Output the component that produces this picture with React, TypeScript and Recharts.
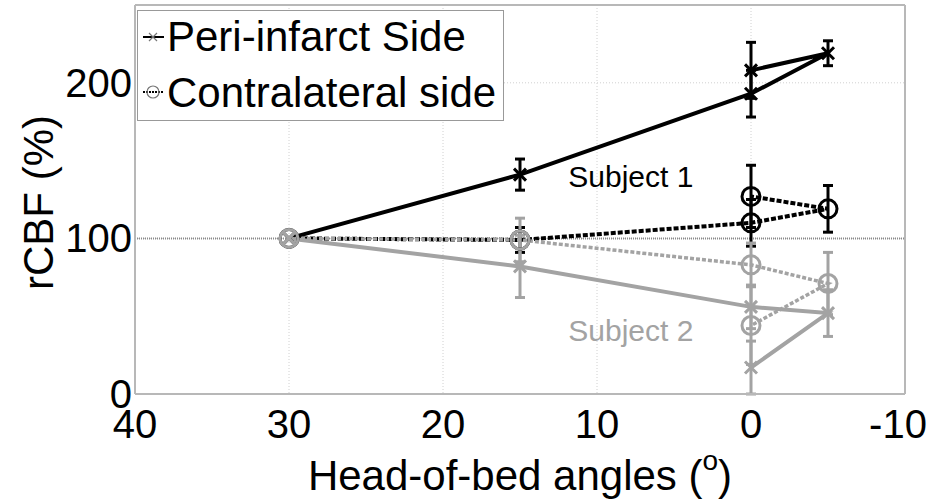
import React from "react";
import {
  LineChart,
  Line,
  XAxis,
  YAxis,
  CartesianGrid,
  ErrorBar,
  ReferenceLine,
  ReferenceDot,
} from "recharts";

// head-of-bed angle for each measurement, in the order the lines were drawn
const angles = [30, 15, 0, -5, 0];

const periSubject1 = [100, 141, 193, 219, 208];
const periSubject1Err = [0, 10, 15, 8, 18];
const contraSubject1 = [100, 99, 110, 119, 127];
const contraSubject1Err = [0, 8, 15, 15, 20];

const periSubject2 = [100, 82, 56, 52, 17];
const periSubject2Err = [0, 20, 14, 15, 17];
const contraSubject2 = [100, 99, 83, 71, 44];
const contraSubject2Err = [0, 14, 14, 20, 25];

const xTicks = [40, 30, 20, 10, 0, -10];
const yTicks = [0, 100, 200];

const FONT = "'Liberation Sans', Arial, Helvetica, sans-serif";
const BLACK = "#000";
const GREY = "#a3a3a3";

const toPoints = (ys: number[], errs: number[]) =>
  angles.map((x, i) => ({ x, y: ys[i], err: errs[i] }));

const crossDot = (color: string) => (props: any) => {
  const { cx, cy, index } = props;
  const s = 6;
  return (
    <path
      key={`x-${index}`}
      d={`M${cx - s},${cy - s}L${cx + s},${cy + s}M${cx - s},${cy + s}L${cx + s},${cy - s}`}
      stroke={color}
      strokeWidth={3}
      fill="none"
    />
  );
};

const circleDot = (color: string) => (props: any) => {
  const { cx, cy, index } = props;
  return <circle key={`o-${index}`} cx={cx} cy={cy} r={9} fill="none" stroke={color} strokeWidth={3} />;
};

const XTick = (props: any) => {
  const { x, y, payload } = props;
  const shift = payload.value === -10 ? -7 : 0;
  return (
    <text x={x + shift} y={y + 44} textAnchor="middle" fontSize={40} fontFamily={FONT} fill="#000">
      {payload.value}
    </text>
  );
};

const YTick = (props: any) => {
  const { y, payload } = props;
  return (
    <text x={132} y={y + 14} textAnchor="end" fontSize={40} fontFamily={FONT} fill="#000">
      {payload.value}
    </text>
  );
};

const XLabel = (props: any) => {
  const vb = props.viewBox;
  const cx = vb.x + vb.width / 2;
  return (
    <text x={cx} y={490} textAnchor="middle" fontSize={42} fontFamily={FONT} fill="#000">
      Head-of-bed angles (
      <tspan fontSize={28} dy={-20}>o</tspan>
      <tspan dy={20}>)</tspan>
    </text>
  );
};

const YLabel = (props: any) => {
  const vb = props.viewBox;
  const cy = vb.y + vb.height / 2 + 3;
  return (
    <text
      x={38}
      y={cy}
      transform={`rotate(-90, 38, ${cy})`}
      textAnchor="middle"
      dominantBaseline="central"
      fontSize={42}
      fontFamily={FONT}
      fill="#000"
    >
      rCBF (%)
    </text>
  );
};

function LegendBox() {
  return (
    <svg
      width={934}
      height={504}
      style={{ position: "absolute", left: 0, top: 0, pointerEvents: "none" }}
    >
      <rect x={137.5} y={10.5} width={366} height={110} fill="#fff" stroke="#999" strokeWidth={1} />
      <line x1={143} y1={37} x2={164} y2={37} stroke={BLACK} strokeWidth={2} />
      <path d="M149,33L157,41M149,41L157,33" stroke="#777" strokeWidth={1.2} />
      <text x={167} y={51} fontSize={42} fontFamily={FONT} fill="#000">
        Peri-infarct Side
      </text>
      <line x1={143} y1={92} x2={164} y2={92} stroke={BLACK} strokeWidth={2} strokeDasharray="2 1" />
      <circle cx={153} cy={92} r={6} fill="none" stroke="#777" strokeWidth={1.2} />
      <text x={167} y={107} fontSize={42} fontFamily={FONT} fill="#000">
        Contralateral side
      </text>
    </svg>
  );
}

export default function App() {
  const series = [
    { id: "periS1", data: toPoints(periSubject1, periSubject1Err), color: BLACK, dash: undefined, dot: crossDot(BLACK), w: 4 },
    { id: "contraS1", data: toPoints(contraSubject1, contraSubject1Err), color: BLACK, dash: "5 2", dot: circleDot(BLACK), w: 4 },
    { id: "periS2", data: toPoints(periSubject2, periSubject2Err), color: GREY, dash: undefined, dot: crossDot(GREY), w: 4 },
    { id: "contraS2", data: toPoints(contraSubject2, contraSubject2Err), color: GREY, dash: "4 2", dot: circleDot(GREY), w: 3.5 },
  ];

  return (
    <div style={{ position: "absolute", left: 0, top: 0, width: 934, height: 504, background: "#fff", fontFamily: FONT }}>
      <LineChart width={934} height={504} margin={{ top: 5, right: 29, bottom: 0, left: 0 }}>
        <CartesianGrid stroke="#d0d0d0" strokeDasharray="1 2" strokeWidth={1} />
        <XAxis
          type="number"
          dataKey="x"
          domain={[-10, 40]}
          reversed
          ticks={xTicks}
          tick={<XTick />}
          tickLine={false}
          tickSize={0}
          tickMargin={0}
          height={110}
          stroke="#b8b8b8"
          strokeWidth={2}
          label={(p: any) => <XLabel {...p} />}
          allowDataOverflow
        />
        <YAxis
          type="number"
          dataKey="y"
          domain={[0, 250]}
          ticks={yTicks}
          tick={<YTick />}
          tickLine={false}
          tickSize={0}
          tickMargin={0}
          width={135}
          stroke="#b8b8b8"
          strokeWidth={2}
          label={(p: any) => <YLabel {...p} />}
          allowDataOverflow
        />
        <ReferenceLine y={250} stroke="#b8b8b8" strokeWidth={2} />
        <ReferenceLine x={-10} stroke="#b8b8b8" strokeWidth={2} />
        <ReferenceLine y={100} stroke="#8a8a8a" strokeWidth={2} strokeDasharray="1 1" />
        {series.map((s) => (
          <Line
            key={s.id}
            data={s.data}
            dataKey="y"
            type="linear"
            stroke={s.color}
            strokeWidth={s.w}
            strokeDasharray={s.dash}
            dot={s.dot}
            activeDot={false}
            isAnimationActive={false}
          >
            <ErrorBar dataKey="err" direction="y" width={5} stroke={s.color} strokeWidth={3} />
          </Line>
        ))}
        <ReferenceDot
          x={7.8}
          y={140}
          r={0}
          stroke="none"
          fill="none"
          label={{ value: "Subject 1", position: "center", fontSize: 30, fill: BLACK, fontFamily: FONT }}
        />
        <ReferenceDot
          x={7.8}
          y={41}
          r={0}
          stroke="none"
          fill="none"
          label={{ value: "Subject 2", position: "center", fontSize: 30, fill: GREY, fontFamily: FONT }}
        />
      </LineChart>
      <LegendBox />
    </div>
  );
}
